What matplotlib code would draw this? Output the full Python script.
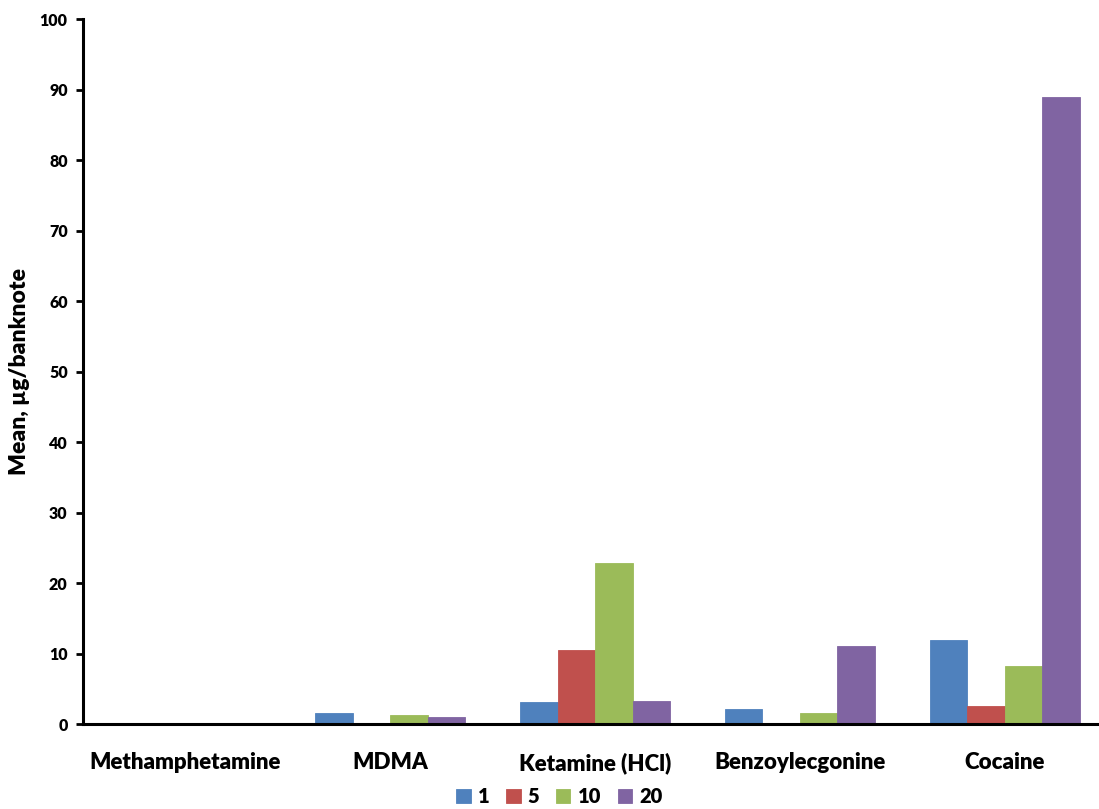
import matplotlib
matplotlib.use("Agg")
import matplotlib.pyplot as plt
import numpy as np

plt.rcParams['font.family'] = ['Lato', 'DejaVu Sans']

categories = ["Methamphetamine", "MDMA", "Ketamine (HCl)", "Benzoylecgonine", "Cocaine"]
series_names = ["1", "5", "10", "20"]
values_1 = [0.0, 1.5, 3.1, 2.1, 11.9]
values_5 = [0.0, 0.0, 10.5, 0.0, 2.6]
values_10 = [0.0, 1.3, 22.8, 1.5, 8.3]
values_20 = [0.0, 1.0, 3.2, 11.1, 89.0]
colors = ["#4F81BD", "#C0504D", "#9BBB59", "#8064A2"]
yticks = list(range(0, 101, 10))

series = [values_1, values_5, values_10, values_20]

fig = plt.figure(figsize=(10.99, 8.09), dpi=100)
ax = fig.add_axes([0.0755, 0.105, 0.932, 0.8715])

x = np.arange(len(categories))
bw = 0.183
for i, (vals, name, c) in enumerate(zip(series, series_names, colors)):
    offs = (i - 1.5) * bw
    ax.bar(x + offs, vals, width=bw, color=c, label=name,
           edgecolor=c, linewidth=0.6, zorder=2)

ax.set_xlim(-0.5, len(categories) - 0.5)
ax.set_ylim(0, 100)
ax.set_yticks(yticks)
ax.set_yticklabels([str(t) for t in yticks], fontsize=11.5, fontweight='heavy')
ax.set_xticks(x)
ax.set_xticklabels(categories, fontsize=16, fontweight='heavy')
ax.tick_params(axis='x', length=0, pad=20)
ax.tick_params(axis='y', direction='out', length=5, width=2, pad=6)

for s in ['top', 'right']:
    ax.spines[s].set_visible(False)
for s in ['left', 'bottom']:
    ax.spines[s].set_linewidth(2.2)
ax.spines['bottom'].set_zorder(3)

ax.set_ylabel("Mean, µg/banknote", fontsize=16.5, fontweight='heavy', labelpad=7)

leg = fig.legend(loc='center', bbox_to_anchor=(0.509, 0.015), ncol=4, frameon=False,
                 prop={'size': 14.5, 'weight': 'heavy'}, handlelength=0.7,
                 handleheight=0.7, handletextpad=0.35, columnspacing=0.85)

fig.savefig("out.png", dpi=100)
